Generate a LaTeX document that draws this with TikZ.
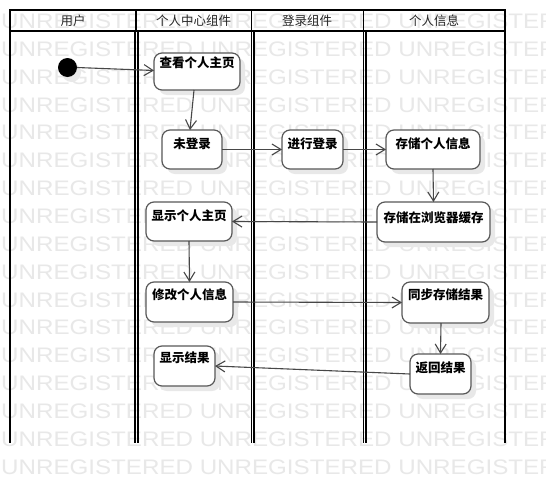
\documentclass[tikz,border=0pt]{standalone}
\usepackage{fontspec}
\newfontfamily\cjk{Noto Sans CJK SC}
\newfontfamily\wmfont{Liberation Sans}
\usetikzlibrary{arrows.meta,shadows}
\begin{document}
\begin{tikzpicture}[x=1pt,y=-1pt,
  lane/.style={line width=1.6pt, draw=black},
  act/.style={draw=black!65, line width=1.2pt, rounded corners=8pt, fill=white,
    inner xsep=0pt, inner ysep=0pt, outer sep=0pt, anchor=north west,
    font=\cjk\bfseries\fontsize{12.5}{13}\selectfont,
    drop shadow={shadow xshift=5pt,shadow yshift=-5pt,fill=black!9,opacity=1}},
  hdr/.style={font=\cjk\fontsize{12.5}{13}\selectfont, text=black!85, inner sep=0pt},
  arr/.style={draw=black!72, line width=1.1pt, -{Straight Barb[length=9pt,width=11pt]}},
  wm/.style={font=\wmfont\fontsize{21}{21}\selectfont, text=black!9, inner sep=0pt, anchor=base west}]
\useasboundingbox (0,0) rectangle (546,482);
\fill[white] (0,0) rectangle (546,482);
% watermark
\foreach \k in {0,...,16}{
  \node[wm] (wm\k) at (1,{28.5+27.85*\k}) {\scalebox{1.15}[1]{UNREGISTERED UNREGISTERED UNREGISTERED}};
}
% swimlanes
\draw[lane] (10,10) rectangle (505,31);
\draw[lane] (10,31) -- (10,443);
\draw[lane] (505,31) -- (505,443);
\draw[lane] (136,10) -- (136,31);
\draw[lane] (251.3,10) -- (251.3,31);
\draw[lane] (363.3,10) -- (363.3,31);
\draw[line width=1.3pt] (135,31) -- (135,443) (138,31) -- (138,443);
\draw[line width=1.3pt] (251.3,31) -- (251.3,443) (254,31) -- (254,443);
\draw[line width=1.3pt] (363.3,31) -- (363.3,443) (366,31) -- (366,443);
\node[hdr] (h1) at (73,20.5) {用户};
\node[hdr] (h2) at (193.5,20.5) {个人中心组件};
\node[hdr] (h3) at (307,20.5) {登录组件};
\node[hdr] (h4) at (434,20.5) {个人信息};
% start
\node[circle, fill=black, minimum size=19pt, inner sep=0pt, outer sep=0pt,
  drop shadow={shadow xshift=4pt,shadow yshift=-5pt,fill=black!9,opacity=1}] (start) at (67.5,67.5) {};
% activities
\node[act, minimum width=86pt, text height=14pt, text depth=23pt] (n1) at (154,53) {查看个人主页};
\node[act, minimum width=60pt, text height=18pt, text depth=21pt] (n2) at (162,130) {未登录};
\node[act, minimum width=61pt, text height=18pt, text depth=21pt] (n3) at (282,130) {进行登录};
\node[act, minimum width=94pt, text height=18pt, text depth=21pt] (n4) at (386,130) {存储个人信息};
\node[act, minimum width=113pt, text height=20pt, text depth=20pt] (n5) at (377,202) {存储在浏览器缓存};
\node[act, minimum width=86pt, text height=18pt, text depth=21pt] (n6) at (146,202) {显示个人主页};
\node[act, minimum width=87pt, text height=17.5pt, text depth=22.5pt] (n7) at (146,282) {修改个人信息};
\node[act, minimum width=87pt, text height=17.5pt, text depth=23.5pt] (n8) at (402,282) {同步存储结果};
\node[act, minimum width=61pt, text height=18pt, text depth=22pt] (n9) at (410,354) {返回结果};
\node[act, minimum width=61pt, text height=16pt, text depth=24pt] (n10) at (154,346) {显示结果};
% flows
\draw[arr] (start.east) -- ([yshift=1pt]n1.west);
\draw[arr] ([xshift=-3pt]n1.south) -- ([xshift=-2pt]n2.north);
\draw[arr] (n2.east) -- (n3.west);
\draw[arr] (n3.east) -- (n4.west);
\draw[arr] (n4.south) -- (n5.north);
\draw[arr] (n5.west) -- (n6.east);
\draw[arr] (n6.south) -- (n7.north);
\draw[arr] (n7.east) -- (n8.west);
\draw[arr] ([xshift=-4.5pt]n8.south) -- (n9.north);
\draw[arr] (n9.west) -- (n10.east);
\end{tikzpicture}
\end{document}
